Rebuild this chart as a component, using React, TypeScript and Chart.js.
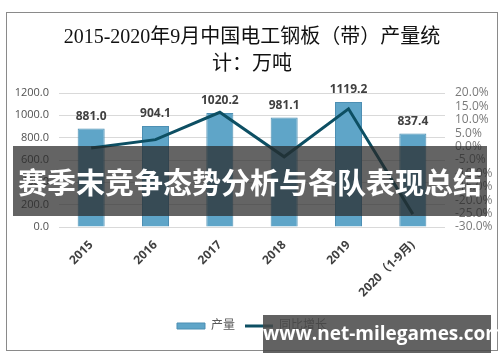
import React, { useEffect, useRef } from "react";
import { Chart, registerables } from "chart.js";

Chart.register(...registerables);

const categories = ["2015", "2016", "2017", "2018", "2019", "2020（1-9月)"];
const output = [881.0, 904.1, 1020.2, 981.1, 1119.2, 837.4];
const growth = [-0.5, 2.6, 12.8, -3.8, 14.1, -25.2];
const titleLines = ["2015-2020年9月中国电工钢板（带）产量统", "计：万吨"];
const seriesNames = ["产量", "同比增长"];
const bannerText = "赛季末竞争态势分析与各队表现总结";
const watermarkText = "www.net-milegames.com";

const barLabelPlugin = {
  id: "barLabels",
  afterDatasetsDraw(chart: any) {
    const ctx = chart.ctx;
    const meta = chart.getDatasetMeta(0);
    ctx.save();
    ctx.font = "bold 12px 'Open Sans', 'Noto Sans CJK SC'";
    ctx.fillStyle = "#404040";
    ctx.textAlign = "center";
    ctx.textBaseline = "middle";
    meta.data.forEach((el: any, i: number) => {
      ctx.fillText(output[i].toFixed(1), el.x, el.y - 12);
    });
    ctx.restore();
  },
};

export default function App() {
  const ref = useRef<HTMLCanvasElement>(null);
  useEffect(() => {
    if (!ref.current) return;
    const chart = new Chart(ref.current, {
      type: "bar",
      data: {
        labels: categories,
        datasets: [
          {
            type: "bar",
            label: seriesNames[0],
            data: output,
            backgroundColor: "#5fa5c8",
            borderColor: "#4d8fb3",
            borderWidth: 1,
            barPercentage: 0.42,
            categoryPercentage: 1,
            yAxisID: "y",
            order: 2,
            pointStyle: "rect",
          } as any,
          {
            type: "line",
            label: seriesNames[1],
            data: growth,
            borderColor: "#0d4f63",
            backgroundColor: "#0d4f63",
            borderWidth: 3,
            pointRadius: 0,
            tension: 0,
            yAxisID: "y1",
            order: 1,
            pointStyle: "line",
          } as any,
        ],
      },
      options: {
        animation: false,
        responsive: false,
        maintainAspectRatio: false,
        layout: { padding: { left: 0, right: 0, top: 0, bottom: 8 } },
        plugins: {
          title: {
            display: true,
            text: titleLines,
            color: "#111",
            font: { family: "'Liberation Serif', 'Noto Sans CJK SC'", size: 20, weight: "normal", lineHeight: 1.35 },
            padding: { top: 11, bottom: 15 },
          },
          legend: {
            display: true,
            position: "bottom",
            labels: {
              color: "#595959",
              font: { size: 12, family: "'Open Sans', 'Noto Sans CJK SC'" },
              usePointStyle: true,
              pointStyleWidth: 28,
              boxHeight: 6,
              padding: 10,
              sort: (a: any, b: any) => a.datasetIndex - b.datasetIndex,
            },
          },
          tooltip: { enabled: false },
        },
        scales: {
          x: {
            grid: { display: false },
            border: { display: false },
            ticks: {
              color: "#404040",
              font: { size: 12, weight: "bold", family: "'Open Sans', 'Noto Sans CJK SC'" },
              minRotation: 45,
              maxRotation: 45,
            },
            afterFit: (s: any) => {
              s.height = 83;
            },
          },
          y: {
            position: "left",
            min: 0,
            max: 1200,
            ticks: {
              stepSize: 200,
              autoSkip: false,
              color: "#505050",
              padding: 10,
              font: { size: 11, family: "'Open Sans', 'Noto Sans CJK SC'" },
              callback: (v: any) => Number(v).toFixed(1),
            },
            grid: { color: "#d9d9d9", drawTicks: false },
            border: { display: false },
            afterFit: (s: any) => {
              s.width = 52;
            },
          },
          y1: {
            position: "right",
            min: -30,
            max: 20,
            ticks: {
              stepSize: 5,
              autoSkip: false,
              color: "#7a7a7a",
              padding: 10,
              font: { size: 12, family: "'Open Sans', 'Noto Sans CJK SC'" },
              callback: (v: any) => Number(v).toFixed(1) + "%",
            },
            grid: { display: false, drawTicks: false },
            border: { display: false },
            afterFit: (s: any) => {
              s.width = 52;
            },
          },
        },
      },
      plugins: [barLabelPlugin],
    });
    return () => chart.destroy();
  }, []);

  return (
    <div style={{ position: "fixed", left: 0, top: 0, width: 500, height: 362, background: "#fff", overflow: "hidden" }}>
      <div
        style={{
          position: "absolute",
          left: 6,
          top: 12,
          width: 490,
          height: 337,
          border: "1px solid #8a8a8a",
        }}
      >
        <canvas ref={ref} width={490} height={337} style={{ display: "block", width: 490, height: 337 }} />
      </div>
      <div
        style={{
          position: "absolute",
          left: 13,
          top: 146,
          width: 474,
          height: 70,
          background: "rgba(40,40,40,0.72)",
          color: "#fff",
          fontFamily: "'Noto Sans CJK SC', sans-serif",
          fontWeight: "bold",
          fontSize: 29,
          lineHeight: "70px",
          textAlign: "center",
          whiteSpace: "nowrap",
          letterSpacing: 0,
        }}
      >
        {bannerText}
      </div>
      <div
        style={{
          position: "absolute",
          left: 263,
          top: 315,
          width: 228,
          height: 38,
          background: "rgba(70,70,70,0.85)",
          color: "#fff",
          fontFamily: "'Open Sans', 'Noto Sans', sans-serif",
          fontWeight: "bold",
          fontSize: 19,
          lineHeight: "36px",
          textAlign: "center",
          whiteSpace: "nowrap",
        }}
      >
        {watermarkText}
      </div>
    </div>
  );
}
